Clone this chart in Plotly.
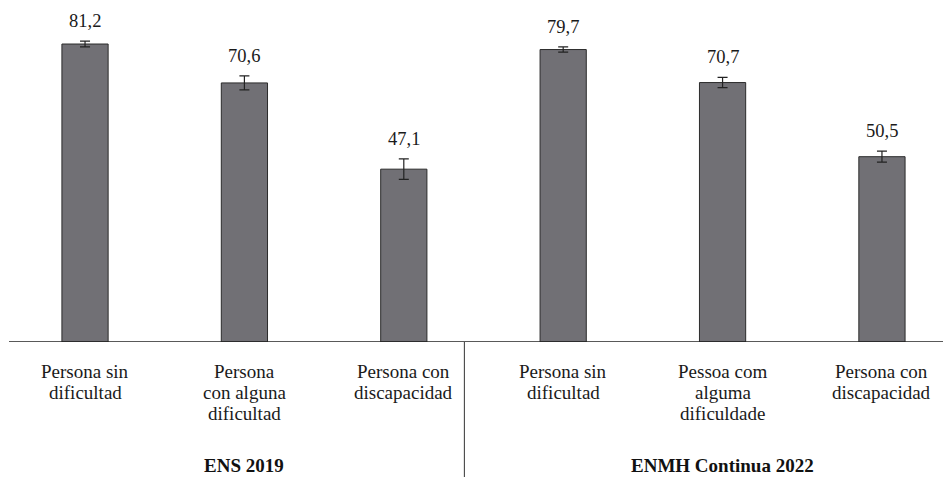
import plotly.graph_objects as go

# Share of persons (%) by difficulty status, two surveys
categories = [
    ["Persona sin", "dificultad"],
    ["Persona", "con alguna", "dificultad"],
    ["Persona con", "discapacidad"],
    ["Persona sin", "dificultad"],
    ["Pessoa com", "alguma", "dificuldade"],
    ["Persona con", "discapacidad"],
]
values = [81.2, 70.6, 47.1, 79.7, 70.7, 50.5]
errors = [0.8, 1.9, 2.8, 0.7, 1.4, 1.5]
value_labels = ["81,2", "70,6", "47,1", "79,7", "70,7", "50,5"]
groups = ["ENS 2019", "ENMH Continua 2022"]

FONT = "Liberation Serif, Times New Roman, DejaVu Serif, serif"
x = list(range(len(values)))

fig = go.Figure()
fig.add_trace(go.Bar(
    x=x, y=values, width=0.29,
    marker=dict(color="#717075", line=dict(color="#2b2b2b", width=1)),
    error_y=dict(type="data", array=errors, visible=True,
                 color="#222222", thickness=1.2, width=5),
    hoverinfo="skip",
))

# value labels above each error bar
for xi, v, e, t in zip(x, values, errors, value_labels):
    fig.add_annotation(x=xi, y=v + e, text=t, showarrow=False,
                       yanchor="middle", yshift=20,
                       font=dict(family=FONT, size=18.5, color="#1a1a1a"))

# category labels under the baseline, one annotation per line
LINE_STEP = 21
for xi, lines in zip(x, categories):
    for k, line in enumerate(lines):
        fig.add_annotation(x=xi, y=0, yref="y", text=line, showarrow=False,
                           yanchor="middle", yshift=-29 - k * LINE_STEP,
                           font=dict(family=FONT, size=19, color="#1a1a1a"))

# group titles
for gx, g in zip([1, 4], groups):
    fig.add_annotation(x=gx, y=0, yref="paper", text=f"<b>{g}</b>",
                       showarrow=False, yanchor="bottom", yshift=-135,
                       borderpad=0,
                       font=dict(family=FONT, size=19, color="#111111"))

# separator between the two surveys
fig.add_shape(type="line", xref="x", yref="paper",
              x0=2.38, x1=2.38, y0=0, y1=-0.4,
              line=dict(color="#333333", width=1))

fig.update_layout(
    width=943, height=477,
    margin=dict(l=9, r=0, t=0, b=135),
    plot_bgcolor="white", paper_bgcolor="white",
    showlegend=False,
    xaxis=dict(range=[-0.477, 5.383], showticklabels=False, ticks="",
               showgrid=False, zeroline=False, showline=False),
    yaxis=dict(range=[0, 93.2], visible=False, showgrid=False,
               zeroline=False),
)
fig.add_shape(type="line", xref="paper", yref="y", x0=0, x1=1, y0=0, y1=0,
              line=dict(color="#222222", width=1.3))

fig.write_html("out.html")
